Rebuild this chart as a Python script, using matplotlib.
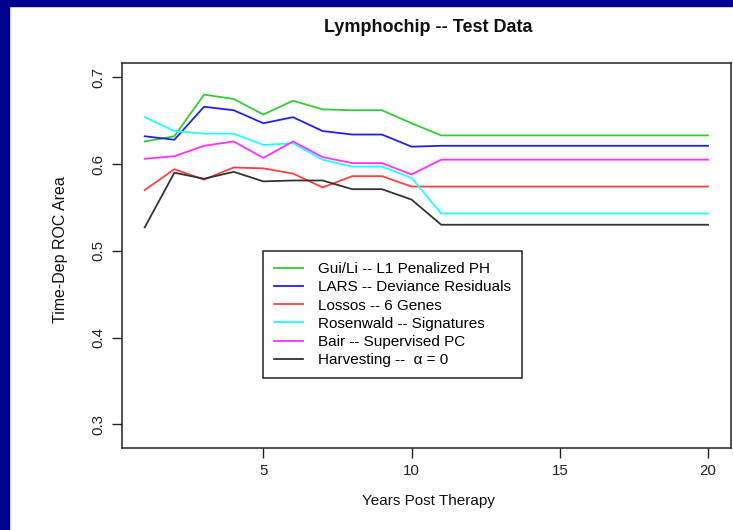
import matplotlib
matplotlib.use("Agg")
import matplotlib.pyplot as plt
from matplotlib.patches import Rectangle

plt.rcParams['font.family'] = ['Liberation Sans', 'DejaVu Sans']

# years post therapy
years = list(range(1, 21))

# time-dependent ROC area (flat after year 11)
gui_li = [0.626, 0.632, 0.680, 0.675, 0.657, 0.673, 0.663, 0.662, 0.662, 0.647, 0.633] + [0.633] * 9
lars = [0.632, 0.628, 0.666, 0.662, 0.647, 0.654, 0.638, 0.634, 0.634, 0.620, 0.621] + [0.621] * 9
lossos = [0.570, 0.594, 0.582, 0.596, 0.595, 0.589, 0.573, 0.586, 0.586, 0.574, 0.574] + [0.574] * 9
rosenwald = [0.654, 0.638, 0.635, 0.635, 0.622, 0.624, 0.605, 0.597, 0.597, 0.584, 0.543] + [0.543] * 9
bair = [0.606, 0.609, 0.621, 0.626, 0.607, 0.626, 0.608, 0.601, 0.601, 0.588, 0.605] + [0.605] * 9
harvesting = [0.527, 0.590, 0.583, 0.591, 0.580, 0.581, 0.581, 0.571, 0.571, 0.559, 0.530] + [0.530] * 9

labels = ['Gui/Li -- L1 Penalized PH', 'LARS -- Deviance Residuals', 'Lossos -- 6 Genes',
          'Rosenwald -- Signatures', 'Bair -- Supervised PC', 'Harvesting --  α = 0']
colors = ['#33cc33', '#2020f0', '#ff4040', '#22ffff', '#ff30ff', '#333333']

fig = plt.figure(figsize=(7.33, 5.30), dpi=100)
# slide border (dark blue strip left and top)
fig.patches.append(Rectangle((0, 0), 9 / 733, 1, transform=fig.transFigure, color='#000090', zorder=0))
fig.patches.append(Rectangle((0, 1 - 6 / 530), 1, 6 / 530, transform=fig.transFigure, color='#000090', zorder=0))

ax = fig.add_axes([0.1667, 0.1542, 0.9967 - 0.1667, 0.8817 - 0.1542])

series = [gui_li, lars, lossos, rosenwald, bair, harvesting]
for s, c, l in zip(series, colors, labels):
    ax.plot(years, s, color=c, lw=1.3, label=l)

ax.set_xlim(0.24, 20.76)
ax.set_ylim(0.2723, 0.7168)
ax.set_xticks([5, 10, 15, 20])
ax.set_yticks([0.3, 0.4, 0.5, 0.6, 0.7])
ax.set_yticklabels(['0.3', '0.4', '0.5', '0.6', '0.7'], rotation=90, va='center')
ax.tick_params(direction='out', length=7, width=1, labelsize=10.8, pad=4, colors='#222222')
ax.tick_params(axis='y', pad=5)
for sp in ax.spines.values():
    sp.set_linewidth(1.1)
    sp.set_color('#222222')

fig.text(428 / 733, 1 - 28 / 530, 'Lymphochip -- Test Data', ha='center', va='center',
         fontsize=13, fontweight='bold', color='#111111')
fig.text(428 / 733, 1 - 501 / 530, 'Years Post Therapy', ha='center', va='center', fontsize=11, color='#111111')
fig.text(61 / 733, 1 - 250 / 530, 'Time-Dep ROC Area', ha='center', va='center', rotation=90,
         fontsize=11.5, color='#111111')

leg = ax.legend(loc='upper left', bbox_to_anchor=(263 / 733, 1 - 251 / 530), bbox_transform=fig.transFigure,
                fancybox=False, framealpha=1, edgecolor='#222222', fontsize=11,
                handlelength=1.9, handletextpad=1.0, labelspacing=0.28, borderpad=0.72, borderaxespad=0)
leg.get_frame().set_linewidth(1.1)

fig.savefig('out.png', dpi=100)
